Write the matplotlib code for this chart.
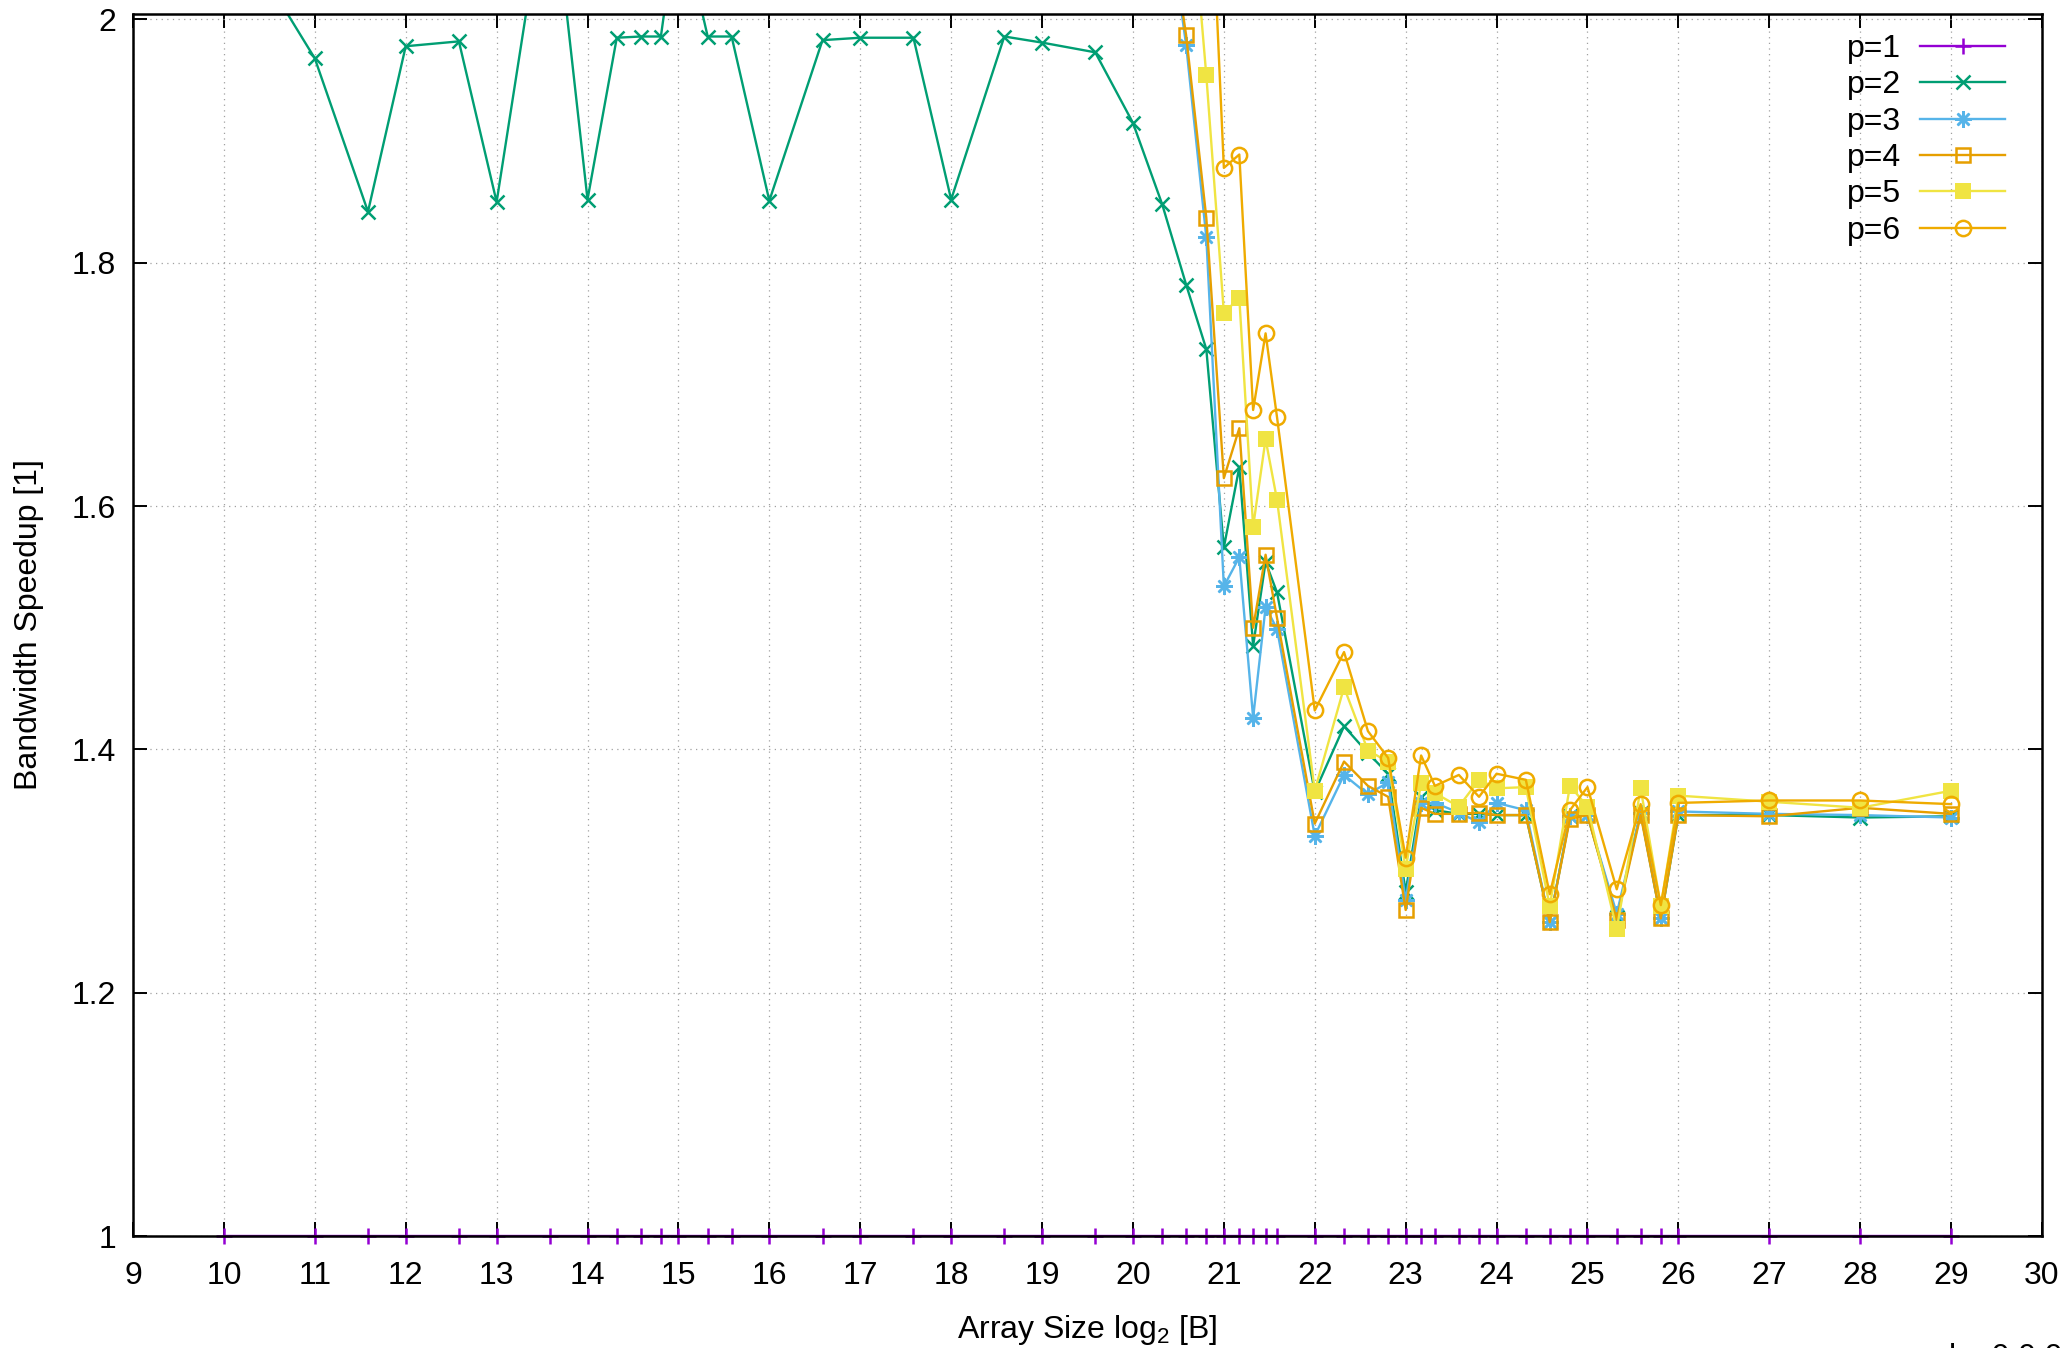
import numpy as np
import matplotlib
matplotlib.use('Agg')
import matplotlib.pyplot as plt
from matplotlib.ticker import MultipleLocator, FormatStrFormatter

plt.rcParams['font.family'] = ['Liberation Sans', 'DejaVu Sans']
plt.rcParams['mathtext.fontset'] = 'custom'
plt.rcParams['mathtext.rm'] = 'Liberation Sans'
plt.rcParams['mathtext.it'] = 'Liberation Sans:italic'

nan = np.nan

# array size, log2 of bytes
x = [10, 11, 11.585, 12, 12.585, 13, 13.585, 14, 14.322, 14.585, 14.807, 15,
     15.322, 15.585, 16, 16.585, 17, 17.585, 18, 18.585, 19, 19.585, 20,
     20.322, 20.585, 20.807, 21, 21.17, 21.322, 21.459, 21.585, 22, 22.322,
     22.585, 22.807, 23, 23.17, 23.322, 23.585, 23.807, 24, 24.322, 24.585,
     24.807, 25, 25.322, 25.585, 25.807, 26, 27, 28, 29]

p1 = [1.0] * len(x)

p2 = [2.09, 1.968, 1.842, 1.978, 1.982, 1.850, 2.13, 1.852, 1.985, 1.986, 1.986, 2.09,
      1.986, 1.986, 1.851, 1.983, 1.985, 1.985, 1.852, 1.986, 1.981, 1.973, 1.915,
      1.848, 1.782, 1.729, 1.566, 1.632, 1.485, 1.554, 1.529, 1.365, 1.419,
      1.397, 1.380, 1.283, 1.361, 1.350, 1.347, 1.347, 1.346, 1.346, 1.258,
      1.345, 1.346, 1.262, 1.348, 1.261, 1.346, 1.346, 1.344, 1.345]

p3 = [nan, nan, nan, nan, nan, nan, nan, nan, nan, nan, nan, nan,
      nan, nan, nan, nan, nan, nan, nan, nan, nan, nan, nan,
      2.12, 1.979, 1.821, 1.534, 1.558, 1.426, 1.517, 1.499, 1.329, 1.379,
      1.363, 1.373, 1.276, 1.356, 1.356, 1.348, 1.340, 1.356, 1.350, 1.258,
      1.345, 1.346, 1.265, 1.348, 1.261, 1.349, 1.347, 1.346, 1.344]

p4 = [nan, nan, nan, nan, nan, nan, nan, nan, nan, nan, nan, nan,
      nan, nan, nan, nan, nan, nan, nan, nan, nan, nan, nan,
      2.12, 1.987, 1.837, 1.623, 1.664, 1.500, 1.560, 1.508, 1.339, 1.390,
      1.370, 1.361, 1.268, 1.352, 1.347, 1.347, 1.348, 1.346, 1.346, 1.258,
      1.343, 1.346, 1.260, 1.346, 1.261, 1.346, 1.345, 1.352, 1.347]

p5 = [nan, nan, nan, nan, nan, nan, nan, nan, nan, nan, nan, nan,
      nan, nan, nan, nan, nan, nan, nan, nan, nan, nan, nan,
      nan, 2.15, 1.954, 1.759, 1.771, 1.583, 1.655, 1.605, 1.366, 1.451,
      1.399, 1.390, 1.302, 1.372, 1.364, 1.353, 1.375, 1.368, 1.369, 1.271,
      1.370, 1.353, 1.252, 1.368, 1.271, 1.362, 1.357, 1.352, 1.366]

p6 = [nan, nan, nan, nan, nan, nan, nan, nan, nan, nan, nan, nan,
      nan, nan, nan, nan, nan, nan, nan, nan, nan, nan, nan,
      nan, nan, 2.2, 1.878, 1.889, 1.679, 1.742, 1.673, 1.432, 1.480,
      1.415, 1.393, 1.311, 1.395, 1.370, 1.379, 1.361, 1.380, 1.375, 1.281,
      1.350, 1.369, 1.285, 1.355, 1.272, 1.356, 1.358, 1.358, 1.355]

fig = plt.figure(figsize=(20.7, 13.48), dpi=100)
ax = fig.add_axes([133 / 2070, 1 - 1236 / 1348, 1909 / 2070, 1222 / 1348])

lw = 1.7
ax.plot(x, p1, color='#9400D3', marker='+', ms=12, mew=1.8, lw=lw, label='p=1',
        clip_on=False, zorder=2.1)
ax.plot(x, p2, color='#009E73', marker='x', ms=10, mew=1.8, lw=lw, label='p=2', zorder=2.2)
ax.plot(x, p3, color='#56B4E9', marker=(8, 2, 0), ms=12, mew=1.8, lw=lw, label='p=3', zorder=2.3)
ax.plot(x, p4, color='#E69F00', marker='s', ms=10, mew=1.8, mfc='none', lw=lw, label='p=4', zorder=2.4)
ax.plot(x, p5, color='#F0E442', marker='s', ms=11, mew=0, lw=lw, label='p=5', zorder=2.45)
ax.plot(x, p6, color='#EFAB00', marker='o', ms=11, mew=1.8, mfc='none', lw=lw, label='p=6', zorder=2.46)

ax.set_xlim(9, 30)
ax.set_ylim(1, 2.0045)
ax.xaxis.set_major_locator(MultipleLocator(1))
ax.yaxis.set_major_locator(MultipleLocator(0.2))
ax.yaxis.set_major_formatter(FormatStrFormatter('%g'))
ax.tick_params(direction='in', length=10, width=1.4, top=True, right=True,
               labelsize=23, colors='black')
ax.tick_params(axis='x', pad=18)
ax.tick_params(axis='y', pad=12)
for s in ax.spines.values():
    s.set_linewidth(1.8)

ax.grid(True, color='#A0A0A0', linestyle=(0, (1, 3.5)), linewidth=0.9)

ax.set_xlabel(r'Array Size log$_\mathregular{2}$ [B]', fontsize=23, labelpad=16)
ax.set_ylabel('Bandwidth Speedup [1]', fontsize=23, labelpad=20)

ax.legend(loc='upper right', bbox_to_anchor=(2030 / 2070, 1 - 22 / 1348),
          frameon=False, markerfirst=False, fontsize=23, handlelength=2.65,
          handletextpad=0.6, labelspacing=0.2, borderpad=0, borderaxespad=0)

fig.text(2062 / 2070, 1 - 1343 / 1348, 'ke 0.0.0', ha='right', va='top', fontsize=23)

fig.savefig('out.png', dpi=100)
